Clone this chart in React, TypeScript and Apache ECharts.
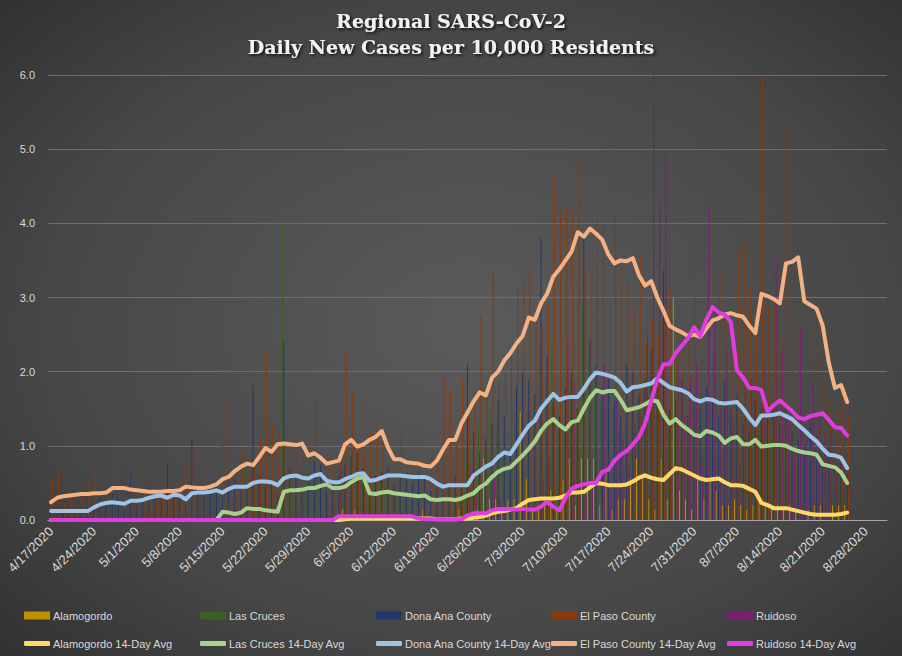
import React, { useEffect, useRef } from 'react';
import * as echarts from 'echarts';

// axis runs 4/17 .. 8/31, data stops at 8/25
const monthSpans = [
  { m: 4, from: 17, to: 30 },
  { m: 5, from: 1, to: 31 },
  { m: 6, from: 1, to: 30 },
  { m: 7, from: 1, to: 31 },
  { m: 8, from: 1, to: 31 },
];
const dates: string[] = [];
monthSpans.forEach(s => {
  for (let d = s.from; d <= s.to; d++) dates.push(`${s.m}/${d}/2020`);
});

const yTicks = [0, 1, 2, 3, 4, 5, 6];

// daily new cases per 10,000
const alamogordo = [
  0, 0, 0, 0, 0, 0, 0, 0, 0, 0,
  0, 0, 0, 0, 0, 0, 0, 0, 0, 0,
  0, 0, 0, 0, 0, 0, 0, 0, 0, 0,
  0, 0, 0, 0, 0, 0, 0, 0, 0, 0,
  0, 0, 0, 0, 0, 0, 0, 0, 0.14, 0,
  0.14, 0, 0, 0, 0, 0, 0, 0, 0, 0,
  0, 0.14, 0, 0, 0, 0, 0, 0.14, 0, 0,
  0.14, 0.83, 0.28, 0.28, 0.14, 0.28, 0.28, 1.46, 0.55, 0.14,
  0.14, 0.28, 0.4, 0.14, 0.55, 0.83, 0.2, 0.83, 0.83, 0.83,
  0.2, 0.63, 0.14, 0.28, 0.28, 0.55, 0.83, 0.55, 0.28, 0.14,
  0.83, 0.28, 3.0, 0.4, 0.28, 0.14, 0.58, 0.28, 0.55, 0.4,
  0.2, 0.2, 0.28, 0.2, 0.14, 0.2, 0.28, 0.2, 0.14, 0.2,
  0.14, 0.2, 0.14, 0, 0.14, 0.2, 0.2, 0, 0.2, 0.2,
  0.2,
];
const lasCruces = [
  0, 0, 0, 0, 0, 0, 0, 0, 0, 0,
  0, 0, 0, 0, 0, 0, 0, 0, 0, 0,
  0, 0, 0, 0, 0, 0, 0, 0, 1.5, 0,
  0, 0.3, 0.9, 0.1, 0.2, 0, 0, 0, 4.0, 0.5,
  0.3, 0.4, 0.6, 0.3, 0.7, 0.5, 0.4, 0.3, 0.6, 0.9,
  0.8, 0.6, 0.5, 0.3, 0.6, 0.5, 0.2, 0.3, 0.4, 0.2,
  0.3, 0.5, 0.1, 0.2, 0.3, 0.4, 0.2, 0.5, 0.9, 0.6,
  1.3, 0.9, 1.5, 1.2, 0.8, 0.6, 1.3, 1.4, 1.5, 1.6,
  2.2, 1.8, 2.38, 1.1, 1.2, 1.9, 1.5, 2.9, 2.1, 1.9,
  1.6, 1.8, 1.5, 1.3, 1.2, 1.8, 1.6, 1.9, 2.1, 1.7,
  1.0, 1.2, 2.3, 1.1, 1.0, 1.2, 1.3, 1.4, 1.0, 1.2,
  0.9, 1.3, 1.4, 0.8, 0.9, 1.2, 1.0, 1.1, 1.2, 0.9,
  1.0, 0.8, 0.9, 0.7, 1.0, 0.8, 0.5, 0.7, 0.6, 0.5,
  0.4,
];
const donaAna = [
  0.15, 0.1, 0.12, 0.08, 0.14, 0.1, 0.18, 0.25, 0.3, 0.2,
  0.35, 0.28, 0.15, 0.63, 0.22, 0.3, 0.45, 0.38, 0.25, 0.77,
  0.3, 0.4, 0.2, 1.08, 0.35, 0.45, 0.4, 0.5, 0.3, 0.6,
  0.55, 0.4, 0.5, 1.82, 0.6, 0.45, 0.5, 0.35, 2.4, 0.7,
  0.65, 0.45, 0.55, 0.8, 0.75, 0.4, 0.5, 0.6, 0.75, 0.85,
  0.9, 0.7, 0.45, 0.6, 0.65, 0.7, 0.5, 0.6, 0.55, 0.5,
  0.65, 0.6, 0.4, 0.45, 0.35, 0.5, 0.6, 0.45, 2.1, 1.2,
  0.9, 1.1, 1.3, 1.6, 1.4, 0.9, 1.8, 2.0, 1.9, 1.7,
  3.8, 2.2, 1.6, 1.4, 1.8, 2.0, 1.5, 3.85, 2.4, 2.1,
  1.8, 1.9, 1.6, 1.4, 2.1, 2.0, 1.7, 1.9, 2.3, 1.8,
  3.36, 1.5, 1.6, 1.9, 1.4, 1.7, 1.5, 1.8, 1.6, 1.4,
  1.9, 1.5, 1.7, 1.3, 1.2, 1.6, 1.5, 1.4, 1.6, 1.3,
  1.5, 1.2, 1.1, 1.0, 1.3, 0.9, 0.8, 1.0, 0.7, 0.9,
  0.6,
];
const elPaso = [
  0.54, 0.65, 0.22, 0.3, 0.18, 0.35, 0.54, 0.65, 0.28, 0.32,
  0.85, 0.4, 0.3, 0.45, 0.25, 0.38, 0.42, 0.3, 0.35, 0.5,
  0.28, 0.6, 0.85, 0.96, 0.3, 0.4, 0.74, 0.45, 1.75, 0.7,
  0.55, 0.96, 0.65, 0.8, 1.1, 2.27, 1.3, 1.2, 1.0, 0.95,
  1.1, 0.9, 1.45, 1.59, 0.7, 0.85, 0.75, 0.9, 2.33, 1.71,
  1.0, 0.95, 1.2, 1.3, 1.1, 0.6, 0.75, 1.19, 0.65, 0.7,
  0.8, 0.55, 0.85, 0.9, 1.91, 1.75, 1.1, 1.9, 1.4, 1.6,
  2.74, 1.8, 3.32, 1.9, 2.0, 2.3, 3.12, 3.27, 3.41, 2.8,
  2.6, 2.9, 4.62, 4.17, 4.24, 4.2, 4.85, 3.5, 3.3, 4.07,
  3.97, 2.9, 5.25, 3.4, 3.2, 2.8, 3.6, 2.4, 2.7, 2.5,
  2.9, 3.1, 2.2, 2.6, 2.4, 3.94, 2.5, 3.57, 2.3, 3.34,
  2.8, 2.6, 3.66, 3.74, 3.12, 2.7, 6.0, 2.9, 3.0, 2.5,
  5.28, 3.2, 2.8, 2.26, 2.69, 2.4, 1.9, 1.62, 1.5, 1.7,
  1.4,
];
const ruidoso = [
  0, 0, 0, 0, 0, 0, 0, 0, 0, 0,
  0, 0, 0, 0, 0, 0, 0, 0, 0, 0,
  0, 0, 0, 0, 0, 0, 0, 0, 0, 0,
  0, 0, 0, 0, 0, 0, 0, 0, 0, 0,
  0, 0, 0, 0, 0, 0, 0, 0.7, 0, 0,
  0, 0, 0, 0, 0, 0, 0, 0, 0, 0,
  0.14, 0, 0, 0, 0, 0, 0, 0, 0.7, 0.45,
  0, 0, 0.55, 0.28, 0, 0, 0, 0.14, 0, 0,
  0.55, 0.85, 0, 0, 2.4, 1.9, 0.55, 0.28, 0.55, 0,
  2.1, 0.45, 1.7, 1.1, 0.7, 1.3, 1.4, 2.5, 6.0, 4.3,
  4.95, 0.7, 2.1, 1.4, 1.9, 2.1, 0.8, 4.21, 2.9, 1.5,
  2.3, 1.3, 0.8, 1.8, 1.9, 1.1, 2.1, 0.4, 3.5, 2.3,
  1.4, 0.9, 2.6, 1.1, 1.9, 1.4, 1.1, 1.2, 0.9, 1.0,
  0.7,
];

// 14-day averages
const alamogordoAvg = [
  0, 0, 0, 0, 0, 0, 0, 0, 0, 0,
  0, 0, 0, 0, 0, 0, 0, 0, 0, 0,
  0, 0, 0, 0, 0, 0, 0, 0, 0, 0,
  0, 0, 0, 0, 0, 0, 0, 0, 0, 0,
  0, 0, 0, 0, 0, 0, 0, 0, 0.01, 0.02,
  0.02, 0.02, 0.02, 0.02, 0.02, 0.02, 0.02, 0.02, 0.02, 0.02,
  0.02, 0.02, 0.02, 0.01, 0.01, 0.01, 0.01, 0.02, 0.02, 0.03,
  0.04, 0.06, 0.09, 0.11, 0.12, 0.14, 0.16, 0.22, 0.27, 0.28,
  0.29, 0.29, 0.29, 0.3, 0.33, 0.37, 0.37, 0.38, 0.44, 0.5,
  0.49, 0.47, 0.47, 0.47, 0.48, 0.52, 0.57, 0.6, 0.57, 0.55,
  0.54, 0.62, 0.7, 0.68, 0.64, 0.6, 0.56, 0.54, 0.55, 0.56,
  0.51, 0.47, 0.47, 0.46, 0.42, 0.38, 0.23, 0.2, 0.16, 0.16,
  0.16, 0.14, 0.12, 0.1, 0.08, 0.07, 0.07, 0.07, 0.07, 0.08,
  0.1,
];
const lasCrucesAvg = [
  0, 0, 0, 0, 0, 0, 0, 0, 0, 0,
  0, 0, 0, 0, 0, 0, 0, 0, 0, 0,
  0, 0, 0, 0, 0, 0, 0, 0, 0.11, 0.1,
  0.08, 0.1, 0.16, 0.15, 0.15, 0.13, 0.12, 0.11, 0.38, 0.4,
  0.4, 0.41, 0.43, 0.43, 0.46, 0.48, 0.43, 0.43, 0.45, 0.51,
  0.56, 0.58, 0.36, 0.35, 0.37, 0.38, 0.36, 0.35, 0.34, 0.33,
  0.32, 0.33, 0.28, 0.27, 0.28, 0.28, 0.27, 0.29, 0.33, 0.36,
  0.44, 0.49, 0.58, 0.65, 0.69, 0.71, 0.79, 0.87, 0.96, 1.06,
  1.2, 1.3, 1.36, 1.28, 1.22, 1.32, 1.34, 1.5, 1.65, 1.75,
  1.72, 1.74, 1.74, 1.62, 1.48, 1.5, 1.52, 1.56, 1.61, 1.6,
  1.42, 1.3, 1.36, 1.28, 1.22, 1.15, 1.13, 1.2, 1.18, 1.14,
  1.04, 1.1, 1.12, 1.02, 1.02, 1.08, 0.99, 1.0, 1.01, 1.01,
  1.0, 0.96, 0.93, 0.91, 0.9, 0.88, 0.75, 0.73, 0.71, 0.64,
  0.5,
];
const donaAnaAvg = [
  0.12, 0.12, 0.12, 0.12, 0.12, 0.12, 0.12, 0.17, 0.21, 0.23,
  0.24, 0.23, 0.22, 0.26, 0.26, 0.27, 0.3, 0.32, 0.33, 0.3,
  0.34, 0.33, 0.28, 0.36, 0.37, 0.37, 0.38, 0.4, 0.37, 0.42,
  0.45, 0.45, 0.45, 0.5, 0.52, 0.52, 0.51, 0.47, 0.56, 0.59,
  0.6, 0.57, 0.56, 0.6, 0.62, 0.53, 0.51, 0.51, 0.55, 0.58,
  0.62, 0.63, 0.53, 0.54, 0.57, 0.6, 0.6, 0.6, 0.59, 0.58,
  0.58, 0.58, 0.55, 0.49, 0.45, 0.47, 0.47, 0.47, 0.47, 0.6,
  0.66, 0.72, 0.76, 0.85, 0.91, 0.89, 1.02, 1.15, 1.27, 1.34,
  1.5, 1.6, 1.7, 1.62, 1.65, 1.66, 1.66, 1.77, 1.9, 1.99,
  1.97, 1.95, 1.92, 1.85, 1.73, 1.79, 1.8, 1.82, 1.84, 1.91,
  1.85, 1.79, 1.77, 1.75, 1.71, 1.63, 1.6, 1.63, 1.62, 1.58,
  1.57, 1.58, 1.59, 1.5, 1.38, 1.28, 1.41, 1.41, 1.42, 1.44,
  1.4, 1.36, 1.28, 1.21, 1.13, 1.06, 0.96, 0.88, 0.87, 0.84,
  0.7,
];
const elPasoAvg = [
  0.24, 0.3, 0.32, 0.33, 0.34, 0.35, 0.35, 0.36, 0.36, 0.37,
  0.43, 0.43, 0.43, 0.41, 0.4, 0.39, 0.38, 0.38, 0.38, 0.39,
  0.39, 0.4, 0.45, 0.44, 0.43, 0.43, 0.45, 0.48, 0.55, 0.58,
  0.66, 0.72, 0.76, 0.74, 0.85, 0.97, 0.92, 1.02, 1.03, 1.02,
  1.01, 1.03, 0.87, 0.9, 0.84, 0.76, 0.78, 0.8, 1.02, 1.08,
  0.99, 1.02, 1.08, 1.12, 1.2, 0.98, 0.82, 0.82, 0.78, 0.77,
  0.76, 0.73, 0.72, 0.8, 0.95, 1.08, 1.08, 1.3, 1.45, 1.6,
  1.72, 1.68, 1.92, 2.0, 2.15, 2.25, 2.38, 2.48, 2.73, 2.7,
  2.92, 3.05, 3.28, 3.38, 3.5, 3.62, 3.88, 3.82, 3.93, 3.86,
  3.78, 3.58, 3.46, 3.5, 3.49, 3.53, 3.3, 3.16, 3.22, 3.0,
  2.82, 2.62, 2.57, 2.53, 2.48, 2.5, 2.47, 2.58, 2.69, 2.72,
  2.77, 2.79, 2.76, 2.74, 2.62, 2.52, 3.05, 3.02, 2.98, 2.92,
  3.46, 3.48, 3.54, 2.95, 2.9, 2.85, 2.62, 2.12, 1.78, 1.82,
  1.59,
];
const ruidosoAvg = [
  0, 0, 0, 0, 0, 0, 0, 0, 0, 0,
  0, 0, 0, 0, 0, 0, 0, 0, 0, 0,
  0, 0, 0, 0, 0, 0, 0, 0, 0, 0,
  0, 0, 0, 0, 0, 0, 0, 0, 0, 0,
  0, 0, 0, 0, 0, 0, 0, 0.05, 0.05, 0.05,
  0.05, 0.05, 0.05, 0.05, 0.05, 0.05, 0.05, 0.05, 0.05, 0.05,
  0.02, 0.01, 0.01, 0.01, 0.01, 0.01, 0.01, 0.01, 0.06, 0.09,
  0.09, 0.09, 0.13, 0.15, 0.15, 0.15, 0.14, 0.15, 0.14, 0.14,
  0.18, 0.24, 0.18, 0.13, 0.3, 0.42, 0.46, 0.48, 0.5, 0.5,
  0.65, 0.68, 0.8, 0.88, 0.93, 1.02, 1.12, 1.3, 1.6, 1.9,
  2.1, 2.1, 2.25, 2.35, 2.45, 2.6, 2.48, 2.7, 2.87, 2.8,
  2.77, 2.67, 2.02, 1.92, 1.78, 1.78, 1.75, 1.46, 1.55, 1.61,
  1.54, 1.47, 1.38, 1.36, 1.4, 1.42, 1.44, 1.35, 1.25, 1.24,
  1.14,
];

const barDefs = [
  { name: 'Alamogordo', data: alamogordo, color: '#bf9000' },
  { name: 'Las Cruces', data: lasCruces, color: '#3b5e25' },
  { name: 'Dona Ana County', data: donaAna, color: '#22386a' },
  { name: 'El Paso County', data: elPaso, color: '#8a3b0c' },
  { name: 'Ruidoso', data: ruidoso, color: '#7a1f72' },
];
const lineDefs = [
  { name: 'Alamogordo 14-Day Avg', data: alamogordoAvg, color: '#ffd966' },
  { name: 'Las Cruces 14-Day Avg', data: lasCrucesAvg, color: '#a9d18e' },
  { name: 'Dona Ana County 14-Day Avg', data: donaAnaAvg, color: '#9dc3e6' },
  { name: 'El Paso County 14-Day Avg', data: elPasoAvg, color: '#f4b183' },
  { name: 'Ruidoso 14-Day Avg', data: ruidosoAvg, color: '#e03ce0' },
];

// legend columns (legend padding of 5 already taken off)
const legendLeft = [19, 195, 371, 546, 722];
const FONT = 'Liberation Sans';

const App: React.FC = () => {
  const chartRef = useRef<HTMLDivElement>(null);

  useEffect(() => {
    document.body.style.margin = '0';
    if (!chartRef.current) return;
    const chart = echarts.init(chartRef.current, null, { renderer: 'svg' });

    const bars = barDefs.map(b => ({
      name: b.name,
      type: 'bar',
      data: b.data,
      barWidth: 1,
      barGap: '20%',
      itemStyle: { color: b.color },
      silent: true,
    }));
    const lines = lineDefs.map(l => ({
      name: l.name,
      type: 'line',
      data: l.data,
      showSymbol: false,
      symbol: 'none',
      lineStyle: { color: l.color, width: 4, cap: 'round', join: 'round' },
      itemStyle: { color: l.color },
      silent: true,
    }));

    const legendText = { color: '#d9d9d9', fontSize: 11, fontFamily: FONT, padding: [0, 0, 0, -2] };
    const legends: any[] = [];
    barDefs.forEach((b, i) => {
      legends.push({
        data: [{ name: b.name, icon: 'rect' }],
        left: legendLeft[i],
        top: 605,
        itemWidth: 26,
        itemHeight: 8,
        selectedMode: false,
        textStyle: legendText,
      });
    });
    lineDefs.forEach((l, i) => {
      legends.push({
        data: [{ name: l.name, icon: 'roundRect' }],
        left: legendLeft[i],
        top: 633,
        itemWidth: 26,
        itemHeight: 5,
        selectedMode: false,
        textStyle: legendText,
      });
    });

    chart.setOption({
      animation: false,
      backgroundColor: new echarts.graphic.RadialGradient(0.52, 0.5, 0.85, [
        { offset: 0, color: '#5b5b5b' },
        { offset: 0.55, color: '#474747' },
        { offset: 1, color: '#262626' },
      ]),
      title: {
        text: 'Regional SARS-CoV-2\nDaily New Cases per 10,000 Residents',
        left: 'center',
        top: 3,
        textStyle: {
          color: '#f2f2f2',
          fontFamily: 'DejaVu Serif',
          fontWeight: 'bold',
          fontSize: 19,
          lineHeight: 26,
          textShadowColor: 'rgba(0,0,0,0.85)',
          textShadowBlur: 3,
          textShadowOffsetX: 1.5,
          textShadowOffsetY: 1.5,
        },
      },
      legend: legends,
      grid: { left: 48, right: 15, top: 75, bottom: 136, containLabel: false },
      xAxis: {
        type: 'category',
        data: dates,
        boundaryGap: true,
        axisLine: { show: true, lineStyle: { color: '#a6a6a6', width: 1 } },
        axisTick: { show: false },
        axisLabel: {
          interval: 6,
          rotate: 45,
          margin: 9,
          color: '#d9d9d9',
          fontSize: 13,
          fontFamily: FONT,
        },
      },
      yAxis: {
        type: 'value',
        min: yTicks[0],
        max: yTicks[yTicks.length - 1],
        interval: 1,
        axisLine: { show: false },
        axisTick: { show: false },
        splitLine: { lineStyle: { color: '#6e6e6e', width: 1 } },
        axisLabel: {
          color: '#d9d9d9',
          fontSize: 11,
          fontFamily: FONT,
          margin: 13,
          formatter: (v: number) => v.toFixed(1),
        },
      },
      series: [...bars, ...lines],
    });

    return () => {
      chart.dispose();
    };
  }, []);

  return <div ref={chartRef} style={{ width: 902, height: 656 }} />;
};

export default App;
